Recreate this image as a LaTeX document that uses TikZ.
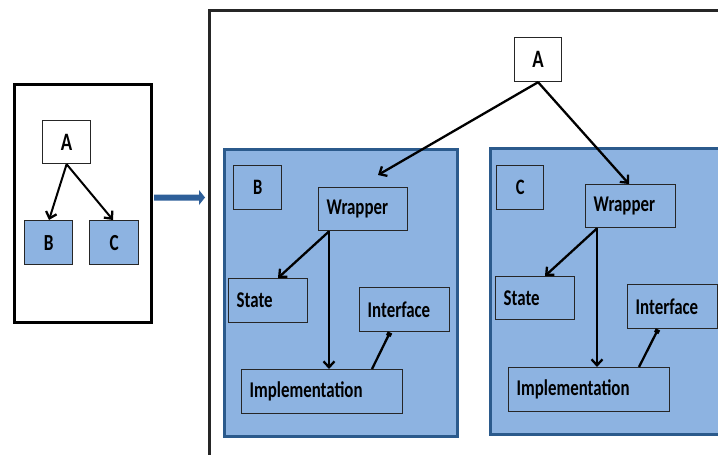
\documentclass[tikz,border=0pt]{standalone}
\usepackage{fontspec}
\setmainfont{Carlito}[FakeStretch=0.75]
\usetikzlibrary{arrows.meta}
\definecolor{boxblue}{HTML}{8DB3E1}
\definecolor{edgeblue}{HTML}{2B5A8C}
\definecolor{arrblue}{HTML}{2E5F99}
\tikzset{
  ibox/.style={draw=black!85, line width=1.4pt, anchor=north west, inner xsep=8pt, inner ysep=0pt, align=left, font=\fontsize{22.5}{25}\selectfont\bfseries},
  lbox/.style={draw=black!85, line width=1.4pt, anchor=north west, inner sep=0pt, font=\fontsize{22}{25}\selectfont\bfseries},
  abox/.style={draw=black!85, fill=white, line width=1.2pt, anchor=north west, inner sep=0pt, font=\fontsize{25}{28}\selectfont\bfseries},
  sbox/.style={draw=black!85, fill=boxblue, line width=1.2pt, anchor=north west, inner sep=0pt, font=\fontsize{23}{26}\selectfont\bfseries},
  container/.style={draw=edgeblue, fill=boxblue, line width=2.6pt, anchor=north west, inner sep=0pt},
  arr/.style={line width=2.3pt, -{Straight Barb[length=6pt,width=11pt,line width=2.3pt]}},
  conn/.style={line width=2.3pt, -{Square[length=4pt,width=5pt]}},
}
\begin{document}
\begin{tikzpicture}[x=1pt,y=-1pt]
\useasboundingbox (0,0) rectangle (718,455);
\clip (0,0) rectangle (718,455);
% left frame
\node[draw=black, line width=3pt, minimum width=137pt, minimum height=238pt, anchor=north west, inner sep=0pt] (left) at (13,83) {};
\node[abox, minimum width=48pt, minimum height=43pt] (sa) at (42,120) {A};
\node[sbox, minimum width=48pt, minimum height=44pt] (sb) at (24,220) {B};
\node[sbox, minimum width=49pt, minimum height=44pt] (sc) at (89,220) {C};
\draw[arr, line width=2pt] (sa.south) -- ([xshift=25pt]sb.north west);
\draw[arr, line width=2pt] (sa.south) -- ([xshift=24pt]sc.north west);
% block arrow
\fill[arrblue] (154,194.5) -- (199,194.5) -- (199,190) -- (205,197.5) -- (199,205) -- (199,200.5) -- (154,200.5) -- cycle;
% right frame
\draw[black!85, line width=3pt] (730,10) -- (209,10) -- (209,470);
% containers
\node[container, minimum width=233pt, minimum height=287pt] (cB) at (223,148) {};
\node[container, minimum width=250pt, minimum height=286pt] (cC) at (489,147) {};
% big A
\node[abox, minimum width=47pt, minimum height=44pt] (A) at (514,37) {A};
% B contents
\node[lbox, minimum width=48pt, minimum height=44pt] (bl) at (233,165) {B};
\node[ibox, text width=73pt, minimum height=43pt] (wB) at (318,187) {Wrapper};
\node[ibox, text width=63pt, minimum height=44pt] (sB) at (228,278) {State};
\node[ibox, text width=74pt, minimum height=44pt] (fB) at (359,287) {Interface};
\node[ibox, text width=145pt, minimum height=44pt] (iB) at (241,369) {Implementation};
\draw[arr] ([xshift=11pt]wB.south west) -- ([xshift=50pt]sB.north west);
\draw[arr] ([xshift=11pt]wB.south west) -- ([xshift=11pt]wB.south west |- iB.north);
\draw[conn] ([xshift=131pt]iB.north west) -- ([xshift=31pt]fB.south west);
% C contents
\node[lbox, minimum width=47pt, minimum height=44pt] (cl) at (496,165) {C};
\node[ibox, text width=74pt, minimum height=43pt] (wC) at (585,184) {Wrapper};
\node[ibox, text width=63pt, minimum height=43pt] (sC) at (495,276) {State};
\node[ibox, text width=74pt, minimum height=44pt] (fC) at (627,284) {Interface};
\node[ibox, text width=145pt, minimum height=44pt] (iC) at (508,367) {Implementation};
\draw[arr] ([xshift=12pt]wC.south west) -- ([xshift=50pt]sC.north west);
\draw[arr] ([xshift=12pt]wC.south west) -- ([xshift=12pt]wC.south west |- iC.north);
\draw[conn] ([xshift=131pt]iC.north west) -- ([xshift=31pt]fC.south west);
% A to wrappers
\coordinate (tB) at (378,175);
\draw[arr] (A.south) -- (tB);
\draw[arr] (A.south) -- ([xshift=44pt]wC.north west);
\end{tikzpicture}
\end{document}
